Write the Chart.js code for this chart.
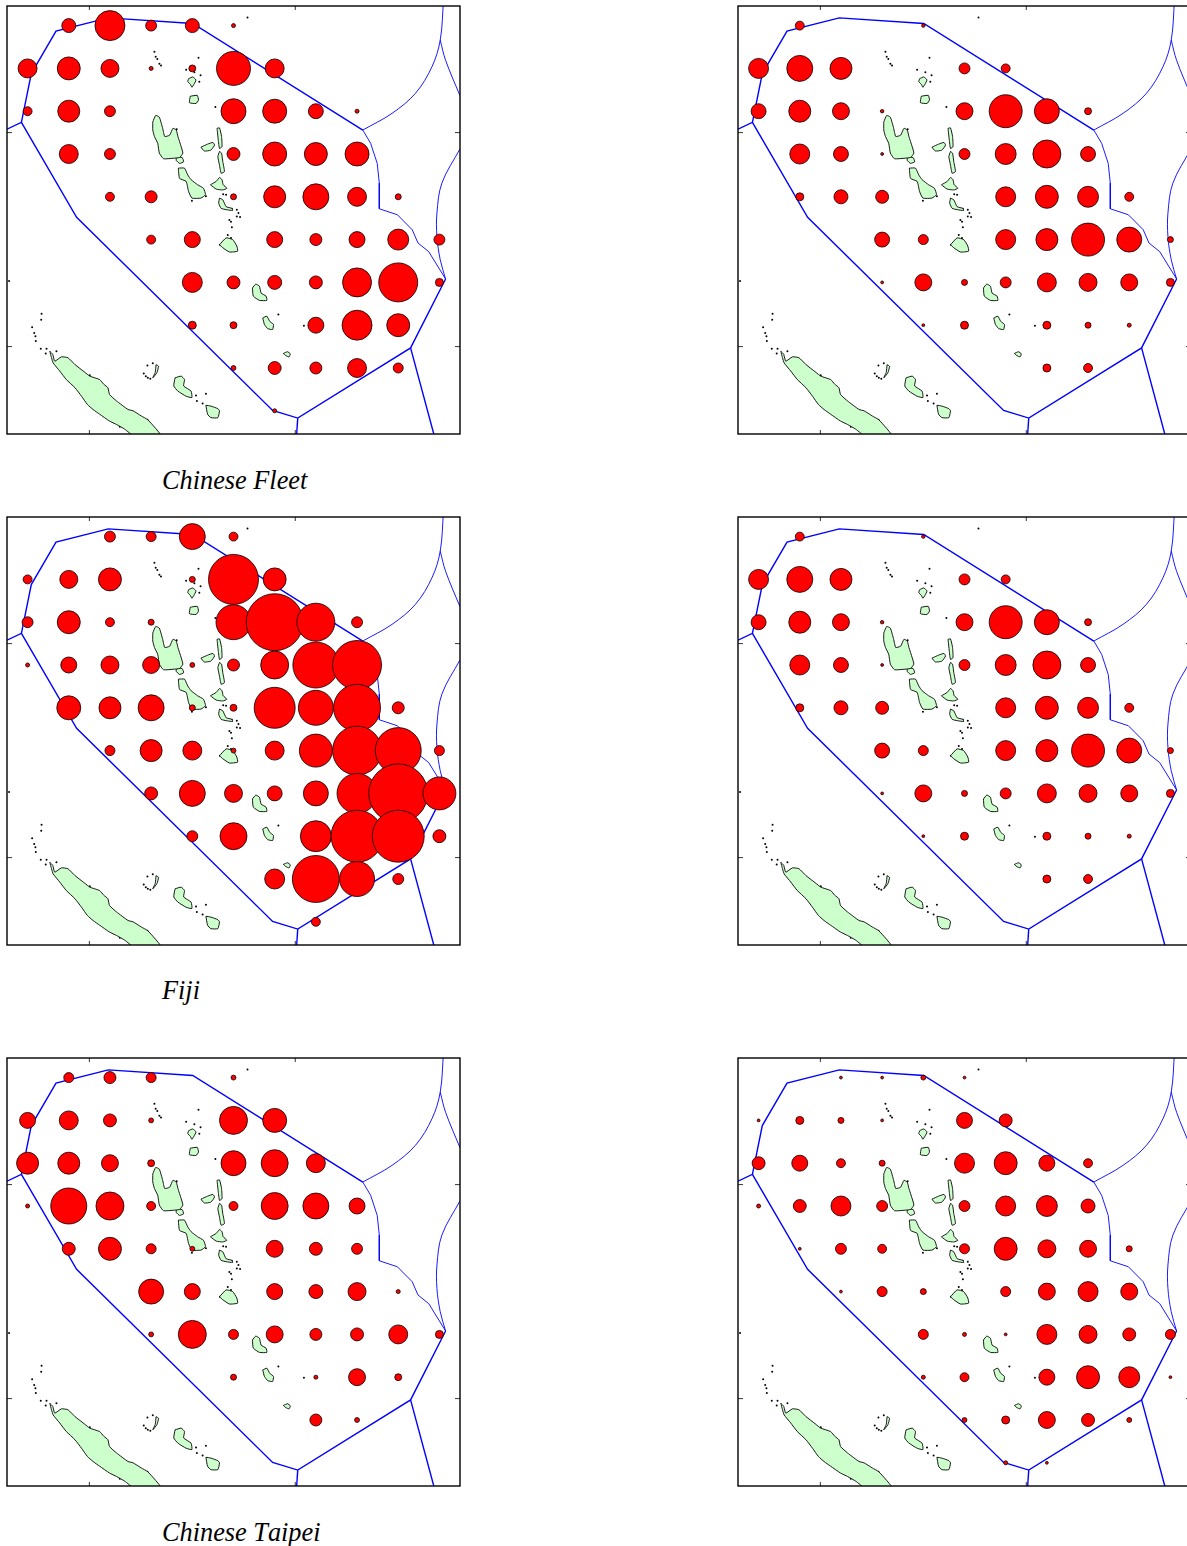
<!DOCTYPE html>
<html lang="en">
<head>
<meta charset="UTF-8">
<title>Catch by fleet</title>
<script src="https://cdn.jsdelivr.net/npm/chart.js"></script>
<style>
  * { margin: 0; padding: 0; box-sizing: border-box; }
  html, body { width: 1187px; height: 1546px; overflow: hidden; background: #fff; }
  .panel { position: absolute; width: 457px; height: 432px; }
  .caption { position: absolute; left: 162px; font: italic 26.3px "Liberation Serif", serif; font-kerning: none; line-height: 30px; color: #000; white-space: nowrap; }
</style>
</head>
<body>
<div class="panel" style="left:5px;top:4px"><canvas id="p1" width="457" height="432"></canvas></div>
<div class="panel" style="left:736px;top:4px"><canvas id="p2" width="457" height="432"></canvas></div>
<div class="caption" style="top:466px">Chinese Fleet</div>
<div class="panel" style="left:5px;top:515px"><canvas id="p3" width="457" height="432"></canvas></div>
<div class="panel" style="left:736px;top:515px"><canvas id="p4" width="457" height="432"></canvas></div>
<div class="caption" style="top:976px">Fiji</div>
<div class="panel" style="left:5px;top:1056px"><canvas id="p5" width="457" height="432"></canvas></div>
<div class="panel" style="left:736px;top:1056px"><canvas id="p6" width="457" height="432"></canvas></div>
<div class="caption" style="top:1518px">Chinese Taipei</div>
<script>
// one degree cells, centre of each cell
const lons = [163.5, 164.5, 165.5, 166.5, 167.5, 168.5, 169.5, 170.5, 171.5, 172.5, 173.5];
const lats = [-12.5, -13.5, -14.5, -15.5, -16.5, -17.5, -18.5, -19.5, -20.5, -21.5];
const tickLons = [165, 170];
const tickLats = [-15, -20];

// values per cell, rows north to south, 0 = nothing
const chineseFleet = [
  [0, 49, 225, 30, 49, 4, 0, 0, 0, 0, 0],
  [90, 132, 81, 4, 12, 289, 90, 0, 0, 0, 0],
  [20, 121, 30, 0, 0, 156, 144, 56, 4, 0, 0],
  [0, 90, 30, 0, 0, 42, 144, 132, 144, 0, 0],
  [0, 0, 20, 36, 0, 9, 121, 169, 90, 9, 0],
  [0, 0, 0, 20, 64, 0, 64, 36, 64, 110, 30],
  [0, 0, 0, 0, 100, 42, 49, 42, 210, 380, 16],
  [0, 0, 0, 0, 16, 12, 0, 64, 225, 132, 0],
  [0, 0, 0, 0, 0, 6, 42, 36, 90, 25, 0],
  [0, 0, 0, 0, 0, 0, 4, 0, 0, 0, 0]
];
const fleetB = [
  [0, 20, 0, 0, 3, 0, 0, 0, 0, 0, 0],
  [100, 169, 121, 0, 0, 30, 20, 0, 0, 0, 0],
  [56, 121, 72, 3, 0, 72, 272, 156, 12, 0, 0],
  [0, 100, 56, 2, 0, 30, 110, 196, 56, 0, 0],
  [0, 16, 49, 42, 0, 0, 100, 132, 110, 20, 0],
  [0, 0, 0, 56, 25, 0, 100, 121, 272, 156, 9],
  [0, 0, 0, 2, 72, 9, 30, 90, 81, 72, 16],
  [0, 0, 0, 0, 2, 16, 0, 16, 9, 4, 0],
  [0, 0, 0, 0, 0, 0, 0, 16, 20, 0, 0],
  [0, 0, 0, 0, 0, 0, 0, 0, 0, 0, 0]
];
const fiji = [
  [0, 0, 30, 25, 169, 20, 0, 0, 0, 0, 0],
  [20, 81, 132, 0, 9, 625, 132, 0, 0, 0, 0],
  [30, 132, 20, 9, 0, 306, 812, 361, 30, 0, 0],
  [4, 64, 81, 72, 6, 36, 196, 529, 600, 0, 0],
  [0, 144, 121, 169, 9, 12, 420, 306, 552, 36, 0],
  [0, 0, 25, 121, 90, 6, 90, 272, 600, 529, 25],
  [0, 0, 0, 42, 169, 81, 56, 156, 400, 870, 272],
  [0, 0, 0, 0, 30, 182, 0, 240, 676, 676, 42],
  [0, 0, 0, 0, 0, 0, 100, 552, 306, 30, 0],
  [0, 0, 0, 0, 0, 0, 0, 20, 0, 0, 0]
];
const fleetD = [
  [0, 20, 0, 0, 3, 0, 0, 0, 0, 0, 0],
  [100, 169, 121, 0, 0, 30, 20, 0, 0, 0, 0],
  [56, 121, 72, 3, 0, 72, 272, 156, 12, 0, 0],
  [0, 100, 56, 2, 0, 30, 110, 196, 56, 0, 0],
  [0, 16, 49, 42, 0, 0, 100, 132, 110, 20, 0],
  [0, 0, 0, 56, 25, 0, 100, 121, 272, 156, 9],
  [0, 0, 0, 2, 72, 9, 30, 90, 81, 72, 16],
  [0, 0, 0, 0, 2, 16, 0, 16, 9, 4, 0],
  [0, 0, 0, 0, 0, 0, 0, 16, 20, 0, 0],
  [0, 0, 0, 0, 0, 0, 0, 0, 0, 0, 0]
];
const chineseTaipei = [
  [0, 25, 36, 25, 0, 6, 0, 0, 0, 0, 0],
  [64, 90, 42, 6, 0, 196, 144, 0, 0, 0, 0],
  [121, 121, 72, 12, 0, 156, 182, 90, 0, 0, 0],
  [4, 324, 196, 20, 0, 20, 182, 169, 64, 0, 0],
  [0, 42, 132, 25, 6, 0, 72, 42, 30, 0, 0],
  [0, 0, 0, 156, 64, 0, 64, 49, 81, 4, 0],
  [0, 0, 0, 6, 196, 25, 72, 36, 42, 90, 16],
  [0, 0, 0, 0, 0, 9, 0, 4, 72, 12, 0],
  [0, 0, 0, 0, 0, 0, 0, 36, 6, 0, 0],
  [0, 0, 0, 0, 0, 0, 0, 0, 0, 0, 0]
];
const fleetF = [
  [0, 0, 2, 2, 6, 2, 0, 0, 0, 0, 0],
  [2, 16, 9, 2, 0, 64, 42, 0, 0, 0, 0],
  [42, 64, 20, 9, 0, 100, 132, 64, 20, 0, 0],
  [4, 42, 100, 30, 0, 30, 100, 110, 49, 0, 0],
  [0, 2, 30, 20, 0, 25, 132, 81, 72, 9, 0],
  [0, 0, 2, 25, 9, 0, 25, 72, 100, 72, 0],
  [0, 0, 0, 0, 25, 4, 2, 100, 81, 42, 25],
  [0, 0, 0, 0, 4, 20, 0, 64, 132, 110, 2],
  [0, 0, 0, 0, 0, 6, 16, 72, 42, 6, 0],
  [0, 0, 0, 0, 0, 0, 4, 2, 0, 0, 0]
];

// zone boundaries [lon, lat]
const eezVanuatu = [[163, -14.92], [163.35, -14.76], [163.59, -13.62], [164.19, -12.63], [165.46, -12.32], [167.51, -12.45], [171.64, -14.94]];
const eezSouth = [[163.35, -14.76], [164.69, -16.98], [169.45, -21.49], [170.06, -21.67], [172.80, -20.03], [173.65, -18.42]];
const eezBottomA = [[170.06, -21.67], [170.03, -22.1]];
const eezBottomB = [[172.80, -20.03], [173.38, -22.1]];
const eezEast = [[171.64, -14.94], [171.83, -15.25], [171.99, -15.72], [172.04, -16.18], [172.04, -16.78], [172.48, -16.92], [172.84, -17.27], [172.98, -17.58], [173.24, -17.78], [173.65, -18.42]];
const eezNorthArc = [[171.64, -14.94], [172.35, -14.55], [172.92, -14.08], [173.32, -13.46], [173.52, -12.84], [173.6, -11.9]];
const eezFarArc = [[173.52, -12.84], [173.65, -13.31], [174, -14.14]];
const eezEastArc = [[174, -15.38], [173.56, -16.18], [173.44, -16.88], [173.44, -17.43], [173.52, -17.97], [173.65, -18.42]];

// coastlines [lon, lat]
const newCaledonia = [[164.04, -20.11], [164.11, -20.18], [164.16, -20.34], [164.32, -20.24], [164.48, -20.26], [164.65, -20.42], [164.89, -20.60], [165.01, -20.69], [165.25, -20.77], [165.35, -20.88], [165.45, -20.96], [165.49, -21.12], [165.66, -21.27], [165.94, -21.47], [166.06, -21.50], [166.26, -21.62], [166.42, -21.71], [166.75, -22.1], [166.1, -22.1], [165.86, -21.93], [165.66, -21.82], [165.49, -21.74], [165.25, -21.58], [165.09, -21.47], [164.95, -21.35], [164.81, -21.16], [164.65, -20.96], [164.44, -20.77], [164.28, -20.57], [164.12, -20.38], [164.08, -20.26]];
const santo = [[166.54, -14.75], [166.61, -14.60], [166.70, -14.64], [166.78, -14.90], [166.83, -15.09], [166.95, -15.06], [167.03, -14.90], [167.11, -14.94], [167.15, -15.09], [167.23, -15.33], [167.27, -15.48], [167.19, -15.58], [167.03, -15.60], [166.80, -15.61], [166.70, -15.48], [166.66, -15.25], [166.58, -15.09], [166.54, -14.94]];
const malo = [[167.11, -15.58], [167.25, -15.58], [167.29, -15.68], [167.19, -15.72], [167.11, -15.65]];
const malakula = [[167.16, -15.83], [167.31, -15.83], [167.39, -15.99], [167.47, -16.10], [167.63, -16.22], [167.77, -16.30], [167.82, -16.45], [167.71, -16.53], [167.49, -16.53], [167.41, -16.38], [167.35, -16.14], [167.19, -16.07]];
const ambae = [[167.71, -15.34], [167.87, -15.27], [168.0, -15.23], [168.04, -15.29], [167.95, -15.41], [167.79, -15.43]];
const maewo = [[168.10, -14.90], [168.16, -14.89], [168.21, -15.09], [168.22, -15.33], [168.16, -15.37], [168.13, -15.17]];
const pentecost = [[168.16, -15.44], [168.21, -15.48], [168.24, -15.68], [168.28, -15.91], [168.20, -15.95], [168.16, -15.76], [168.12, -15.56]];
const ambrym = [[167.94, -16.22], [168.08, -16.14], [168.16, -16.05], [168.22, -16.10], [168.25, -16.22], [168.34, -16.30], [168.24, -16.34], [168.08, -16.32]];
const epi = [[168.16, -16.53], [168.24, -16.57], [168.32, -16.73], [168.46, -16.77], [168.48, -16.82], [168.32, -16.80], [168.20, -16.77], [168.14, -16.65]];
const efate = [[168.16, -17.62], [168.32, -17.46], [168.48, -17.50], [168.58, -17.65], [168.60, -17.77], [168.40, -17.79], [168.24, -17.69]];
const erromango = [[168.96, -18.63], [169.04, -18.54], [169.13, -18.59], [169.17, -18.75], [169.29, -18.82], [169.31, -18.92], [169.13, -18.92], [168.98, -18.82]];
const tanna = [[169.21, -19.33], [169.31, -19.29], [169.38, -19.41], [169.47, -19.48], [169.45, -19.60], [169.33, -19.58], [169.25, -19.48]];
const aneityum = [[169.71, -20.16], [169.81, -20.12], [169.88, -20.17], [169.85, -20.24], [169.77, -20.21]];
const vanuaLava = [[167.41, -13.74], [167.51, -13.70], [167.59, -13.77], [167.54, -13.87], [167.49, -13.94], [167.45, -13.87], [167.39, -13.81]];
const gaua = [[167.45, -14.15], [167.62, -14.13], [167.65, -14.24], [167.59, -14.32], [167.43, -14.30]];
const ouvea = [[166.62, -20.42], [166.68, -20.46], [166.64, -20.61], [166.54, -20.73], [166.60, -20.60]];
const lifou = [[167.08, -20.73], [167.23, -20.69], [167.31, -20.77], [167.29, -20.92], [167.47, -21.04], [167.49, -21.19], [167.35, -21.16], [167.15, -21.04], [167.05, -20.92]];
const mare = [[167.83, -21.37], [167.95, -21.39], [168.12, -21.45], [168.16, -21.50], [168.12, -21.66], [167.95, -21.66], [167.87, -21.58]];
const coasts = [newCaledonia, santo, malo, malakula, ambae, maewo, pentecost, ambrym, epi, efate, erromango, tanna, aneityum, vanuaLava, gaua, ouvea, lifou, mare];

const islets = [[166.58, -13.11], [166.61, -13.23], [166.65, -13.28], [166.70, -13.39], [166.74, -13.43], [167.65, -13.25], [167.35, -13.53], [167.55, -13.59], [167.70, -13.66], [167.67, -13.81], [168.06, -14.40], [168.25, -16.44], [168.32, -16.45], [168.46, -16.78], [168.58, -16.80], [168.62, -16.88], [168.58, -16.96], [168.66, -16.97], [168.40, -17.04], [168.44, -17.08], [168.46, -17.21], [168.36, -17.39], [168.44, -17.46], [168.17, -17.62], [169.59, -19.25], [168.84, -12.31], [170.21, -19.51], [163.61, -19.55], [163.66, -19.68], [163.69, -19.76], [163.70, -19.87], [163.82, -20.05], [163.96, -20.05], [163.94, -20.16], [164.20, -20.11], [163.84, -19.23], [163.83, -19.37], [165.01, -20.67], [165.74, -21.87], [165.96, -21.50], [166.41, -21.71], [167.59, -21.14], [167.61, -21.27], [167.75, -21.33], [167.83, -21.10], [163.05, -18.47], [167.49, -16.59], [167.83, -16.49], [167.20, -15.52], [167.12, -14.92], [166.41, -20.44], [166.54, -20.39], [166.32, -20.63], [166.37, -20.69], [166.42, -20.73], [166.48, -20.75]];

function toPoints(list) {
  return list.map(p => ({ x: p[0], y: p[1] }));
}

function bubblePoints(rows) {
  const pts = [];
  rows.forEach((row, i) => row.forEach((v, j) => {
    if (v > 0) pts.push({ x: lons[j], y: lats[i], r: Math.sqrt(v) });
  }));
  return pts;
}

function boundary(list, width, curved) {
  return {
    type: 'scatter', data: toPoints(list), showLine: true, pointRadius: 0, order: 2,
    borderColor: '#0000ff', borderWidth: width, tension: curved ? 0.35 : 0, fill: false
  };
}

const frameTicks = {
  id: 'frameTicks',
  afterDraw(chart) {
    const { ctx, chartArea: a, scales } = chart;
    ctx.save();
    ctx.strokeStyle = '#000';
    ctx.lineWidth = 0.8;
    ctx.beginPath();
    tickLons.forEach(v => {
      const x = scales.x.getPixelForValue(v);
      ctx.moveTo(x, a.top); ctx.lineTo(x, a.top + 4);
      ctx.moveTo(x, a.bottom); ctx.lineTo(x, a.bottom - 4);
    });
    tickLats.forEach(v => {
      const y = scales.y.getPixelForValue(v);
      ctx.moveTo(a.left, y); ctx.lineTo(a.left + 5, y);
      ctx.moveTo(a.right, y); ctx.lineTo(a.right - 5, y);
    });
    ctx.stroke();
    ctx.lineWidth = 1.4;
    ctx.strokeRect(a.left, a.top, a.right - a.left, a.bottom - a.top);
    ctx.restore();
  }
};

function drawPanel(id, rows) {
  const datasets = [{
    type: 'bubble', data: bubblePoints(rows), order: 0,
    backgroundColor: '#ff0000', borderColor: '#000', borderWidth: 0.8, hoverRadius: 0
  }];
  datasets.push(boundary(eezVanuatu, 1.4), boundary(eezSouth, 1.4), boundary(eezBottomA, 1.4), boundary(eezBottomB, 1.4));
  datasets.push(boundary(eezEast, 0.9), boundary(eezNorthArc, 0.9, true), boundary(eezFarArc, 0.9, true), boundary(eezEastArc, 0.9, true));
  coasts.forEach(c => datasets.push({
    type: 'scatter', data: toPoints(c.concat([c[0]])), showLine: true, pointRadius: 0, order: 3,
    borderColor: '#000', borderWidth: 0.9, backgroundColor: '#ccffcc', fill: 'shape', tension: 0.15
  }));
  datasets.push({
    type: 'scatter', data: toPoints(islets), showLine: false, pointRadius: 1, order: 3,
    backgroundColor: '#000', borderColor: '#000', borderWidth: 0
  });
  new Chart(document.getElementById(id), {
    type: 'bubble',
    data: { datasets },
    options: {
      responsive: false,
      animation: false,
      events: [],
      layout: { padding: 2, autoPadding: false },
      plugins: { legend: { display: false }, tooltip: { enabled: false } },
      scales: {
        x: { type: 'linear', min: 163, max: 174, display: false },
        y: { type: 'linear', min: -22.042, max: -12.042, display: false }
      }
    },
    plugins: [frameTicks]
  });
}

drawPanel('p1', chineseFleet);
drawPanel('p2', fleetB);
drawPanel('p3', fiji);
drawPanel('p4', fleetD);
drawPanel('p5', chineseTaipei);
drawPanel('p6', fleetF);
</script>
</body>
</html>
